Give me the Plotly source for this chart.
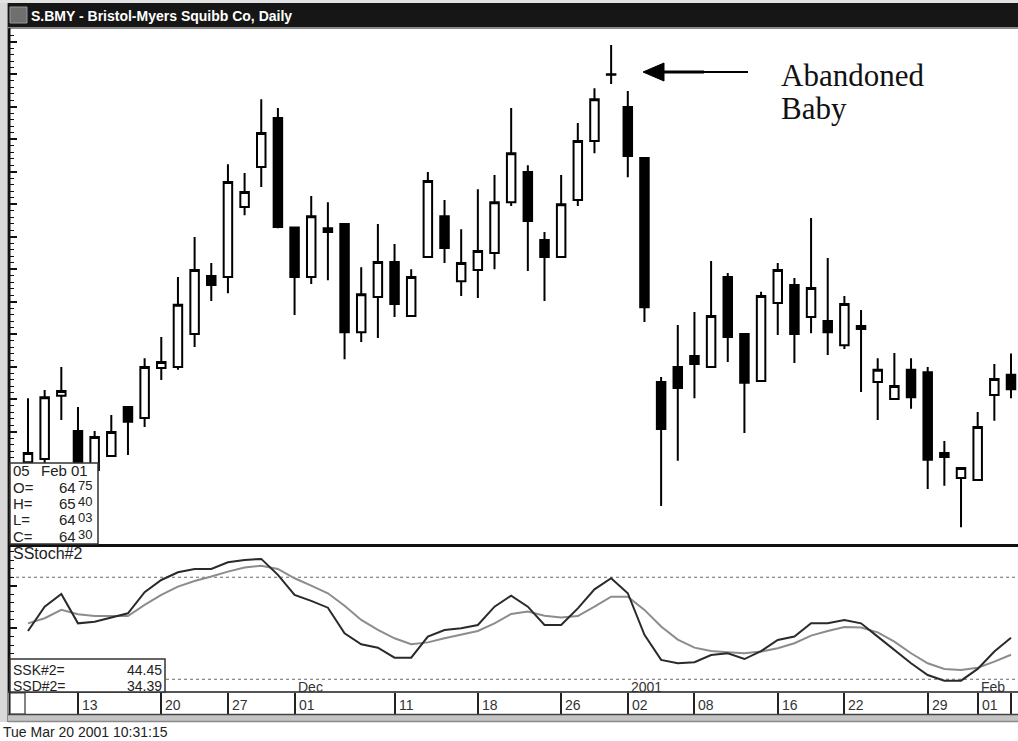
import datetime
import plotly.graph_objects as go

W, H = 1018, 741

# ---------------- data ----------------
dates = [
    "2000-11-08", "2000-11-09", "2000-11-10", "2000-11-13", "2000-11-14", "2000-11-15",
    "2000-11-16", "2000-11-17", "2000-11-20", "2000-11-21", "2000-11-22", "2000-11-24",
    "2000-11-27", "2000-11-28", "2000-11-29", "2000-11-30",
    "2000-12-01", "2000-12-04", "2000-12-05", "2000-12-06", "2000-12-07", "2000-12-08",
    "2000-12-11", "2000-12-12", "2000-12-13", "2000-12-14", "2000-12-15", "2000-12-18",
    "2000-12-19", "2000-12-20", "2000-12-21", "2000-12-22", "2000-12-26", "2000-12-27",
    "2000-12-28", "2000-12-29",
    "2001-01-02", "2001-01-03", "2001-01-04", "2001-01-05", "2001-01-08", "2001-01-09",
    "2001-01-10", "2001-01-11", "2001-01-12", "2001-01-16", "2001-01-17", "2001-01-18",
    "2001-01-19", "2001-01-22", "2001-01-23", "2001-01-24", "2001-01-25", "2001-01-26",
    "2001-01-29", "2001-01-30", "2001-01-31",
    "2001-02-01", "2001-02-02", "2001-02-05",
]

opens = [
    62.06, 62.16, 64.10, 63.02, 61.82, 62.25, 63.76, 63.42, 64.96, 64.99,
    66.00, 67.79, 67.76, 69.91, 71.14, 72.65, 69.28, 67.76, 69.26, 69.39,
    66.06, 67.14, 68.22, 66.56, 68.37, 69.63, 67.63, 67.97, 68.50, 70.06,
    70.99, 68.90, 68.37, 70.13, 71.94, 74.00, 72.99, 71.42, 64.53, 64.99,
    65.33, 64.99, 67.76, 66.00, 64.56, 66.96, 67.51, 66.53, 66.40, 65.66,
    66.25, 64.53, 64.00, 64.90, 64.83, 62.34, 61.57, 61.51, 64.13, 64.75,
]
highs = [
    64.03, 64.28, 64.99, 63.76, 63.02, 63.51, 63.79, 65.26, 65.91, 67.76,
    68.99, 68.19, 71.23, 70.96, 73.23, 72.96, 69.31, 70.25, 70.06, 69.42,
    68.06, 69.39, 68.77, 68.00, 70.99, 70.13, 69.23, 70.46, 70.90, 72.96,
    71.20, 69.14, 70.90, 72.50, 73.57, 74.90, 73.48, 71.45, 64.68, 66.28,
    66.68, 68.25, 67.88, 66.03, 67.30, 68.19, 67.73, 69.57, 68.34, 67.17,
    66.74, 65.26, 65.42, 65.26, 64.99, 62.71, 61.90, 63.60, 65.08, 65.40,
]
lows = [
    61.82, 62.03, 63.36, 61.51, 61.66, 62.22, 62.28, 63.14, 64.59, 64.90,
    65.60, 67.02, 67.26, 69.66, 70.53, 69.26, 66.59, 67.54, 67.66, 65.23,
    65.76, 65.88, 66.53, 66.53, 68.34, 68.19, 67.17, 67.11, 68.00, 69.94,
    67.94, 67.02, 68.34, 69.94, 71.57, 73.70, 70.83, 66.37, 60.71, 62.10,
    64.03, 64.96, 65.14, 62.96, 64.53, 65.97, 65.11, 66.03, 65.36, 65.54,
    64.22, 63.36, 63.97, 63.70, 61.23, 61.33, 60.06, 61.48, 63.33, 64.03,
]
closes = [
    62.34, 64.06, 64.25, 61.82, 62.83, 62.99, 63.30, 64.99, 65.14, 66.90,
    67.97, 67.51, 70.68, 70.37, 72.19, 69.30, 67.76, 69.63, 69.14, 66.06,
    67.23, 68.22, 66.93, 67.76, 70.71, 68.65, 68.19, 68.56, 70.06, 71.57,
    69.48, 68.37, 70.00, 71.94, 73.23, 73.98, 71.48, 66.83, 63.08, 64.34,
    65.08, 66.56, 65.91, 64.50, 67.17, 67.97, 66.00, 67.42, 66.06, 66.93,
    66.16, 64.90, 64.40, 64.06, 62.13, 62.22, 61.88, 63.14, 64.62, 64.30,
]

ssk = [
    48.4, 62.7, 70.2, 52.9, 53.9, 56.3, 58.8, 71.2, 78.4, 82.9,
    84.9, 84.9, 88.8, 90.2, 90.8, 81.4, 69.6, 66.1, 62.1, 47.0,
    40.6, 38.6, 32.7, 32.7, 45.1, 49.0, 50.0, 51.9, 62.7, 69.2,
    62.7, 51.9, 51.9, 61.7, 72.9, 79.4, 70.6, 46.1, 31.4, 29.4,
    30.0, 34.3, 35.3, 31.9, 36.6, 43.1, 45.1, 52.9, 52.9, 54.9,
    52.9, 45.1, 37.2, 29.4, 22.5, 19.2, 19.2, 26.1, 36.3, 44.45,
]
ssd = [
    52.9, 55.9, 60.8, 58.2, 57.2, 57.2, 57.2, 63.7, 69.6, 74.5,
    77.8, 80.4, 83.3, 85.7, 86.8, 84.9, 79.4, 75.1, 70.6, 63.2,
    54.9, 49.0, 44.1, 40.6, 41.7, 44.1, 46.1, 48.4, 52.9, 58.4,
    59.8, 57.4, 56.3, 57.2, 62.7, 68.6, 68.6, 60.8, 51.0, 43.3,
    38.6, 36.6, 35.9, 35.3, 36.3, 38.2, 41.2, 45.7, 48.4, 50.8,
    50.4, 47.6, 42.1, 35.3, 29.4, 26.1, 25.5, 26.8, 30.4, 34.39,
]

tick_dates = ["2000-11-13", "2000-11-20", "2000-11-27", "2000-12-01", "2000-12-11",
              "2000-12-18", "2000-12-26", "2001-01-02", "2001-01-08", "2001-01-16",
              "2001-01-22", "2001-01-29", "2001-02-01"]
tick_labels = ["13", "20", "27", "01", "11", "18", "26", "02", "08", "16", "22", "29", "01"]
month_dates = ["2000-12-01", "2001-01-02", "2001-02-01"]
month_labels = ["Dec", "2001", "Feb"]

title_text = "S.BMY - Bristol-Myers Squibb Co, Daily"
stamp_text = "Tue Mar 20 2001 10:31:15"
overbought, oversold = 80, 20

# ---------------- helpers ----------------
def px(x):
    return x / W

def py(y):
    return 1 - y / H

FONT = "Liberation Sans"

def ann(text, x, y, size=14, color="#222222", xanchor="left", family=FONT, **kw):
    d = dict(text=text, x=px(x), y=py(y), xref="paper", yref="paper", showarrow=False,
             xanchor=xanchor, yanchor="middle", borderpad=0,
             font=dict(family=family, size=size, color=color))
    d.update(kw)
    return d

XR = [-1.08, 59.42]

fig = go.Figure()

fig.add_trace(go.Candlestick(
    x=dates, open=opens, high=highs, low=lows, close=closes,
    increasing=dict(line=dict(color="black", width=2), fillcolor="white"),
    decreasing=dict(line=dict(color="black", width=2), fillcolor="black"),
    whiskerwidth=0, xaxis="x", yaxis="y", showlegend=False, name="S.BMY",
))
fig.add_trace(go.Scatter(x=dates, y=ssd, mode="lines", xaxis="x2", yaxis="y2",
                         line=dict(color="#8c8c8c", width=2), showlegend=False, name="SSD#2"))
fig.add_trace(go.Scatter(x=dates, y=ssk, mode="lines", xaxis="x2", yaxis="y2",
                         line=dict(color="#2a2a2a", width=2), showlegend=False, name="SSK#2"))

shapes = []
# outer frame
shapes.append(dict(type="rect", xref="paper", yref="paper", x0=0, x1=px(8), y0=py(722), y1=1,
                   fillcolor="#d9d9d9", line=dict(width=0), layer="below"))
shapes.append(dict(type="line", xref="paper", yref="paper", x0=px(7.5), x1=px(7.5), y0=py(722), y1=py(3),
                   line=dict(color="#8a8a8a", width=1)))
shapes.append(dict(type="rect", xref="paper", yref="paper", x0=0, x1=1, y0=py(3), y1=1,
                   fillcolor="#e2e2e2", line=dict(width=0)))
# title bar
shapes.append(dict(type="rect", xref="paper", yref="paper", x0=px(8), x1=1, y0=py(27.5), y1=py(3),
                   fillcolor="#161616", line=dict(width=0)))
shapes.append(dict(type="rect", xref="paper", yref="paper", x0=px(10), x1=px(27), y0=py(23), y1=py(7),
                   fillcolor="#6f6f6f", line=dict(color="#9a9a9a", width=1)))
shapes.append(dict(type="line", xref="paper", yref="paper", x0=px(8), x1=1, y0=py(28.3), y1=py(28.3),
                   line=dict(color="#8a8a8a", width=1.5)))
# overbought / oversold
for lvl in (overbought, oversold):
    shapes.append(dict(type="line", xref="x2 domain", yref="y2", x0=0, x1=1, y0=lvl, y1=lvl,
                       line=dict(color="#6a6a6a", width=1.2, dash="dot"), layer="below"))
# panel separators
shapes.append(dict(type="line", xref="paper", yref="paper", x0=px(8), x1=1, y0=py(545.5), y1=py(545.5),
                   line=dict(color="#111111", width=3)))
shapes.append(dict(type="line", xref="paper", yref="paper", x0=px(9.5), x1=px(9.5), y0=py(714), y1=py(28),
                   line=dict(color="#111111", width=2)))
# OHLC box
shapes.append(dict(type="rect", xref="paper", yref="paper", x0=px(10), x1=px(98), y0=py(544), y1=py(463),
                   fillcolor="white", line=dict(color="#333333", width=1.5)))
# stoch value box
shapes.append(dict(type="rect", xref="paper", yref="paper", x0=px(10), x1=px(165), y0=py(692), y1=py(659),
                   fillcolor="white", line=dict(color="#333333", width=1.5)))
# date strip parts
shapes.append(dict(type="rect", xref="paper", yref="paper", x0=px(10), x1=px(25), y0=py(714), y1=py(693),
                   fillcolor="white", line=dict(color="#333333", width=1.2)))
shapes.append(dict(type="rect", xref="paper", yref="paper", x0=px(8), x1=1, y0=py(722), y1=py(714),
                   fillcolor="#c4c4c4", line=dict(width=0)))
shapes.append(dict(type="line", xref="paper", yref="paper", x0=px(8), x1=1, y0=py(714.5), y1=py(714.5),
                   line=dict(color="#444444", width=1.5)))
shapes.append(dict(type="line", xref="paper", yref="paper", x0=px(8), x1=1, y0=py(721.5), y1=py(721.5),
                   line=dict(color="#8a8a8a", width=1.5)))
# arrow
shapes.append(dict(type="line", xref="paper", yref="paper", x0=px(660), x1=px(704), y0=py(72), y1=py(72),
                   line=dict(color="black", width=3)))
shapes.append(dict(type="line", xref="paper", yref="paper", x0=px(703), x1=px(748), y0=py(72), y1=py(72),
                   line=dict(color="black", width=2)))
shapes.append(dict(type="path", xref="paper", yref="paper",
                   path=f"M {px(643)},{py(72)} L {px(664)},{py(63)} L {px(664)},{py(81)} Z",
                   fillcolor="black", line=dict(color="black", width=1)))

annotations = []
annotations.append(ann("<b>" + title_text + "</b>", 30, 15.8, size=14, color="white"))
# OHLC box text
last = datetime.date.fromisoformat(dates[-1])
annotations.append(ann(last.strftime("%d"), 12, 470.5, size=15))
annotations.append(ann(last.strftime("%b"), 40, 470.5, size=15))
annotations.append(ann(last.strftime("%y"), 70, 470.5, size=15))
rows = [("O=", opens[-1]), ("H=", highs[-1]), ("L=", lows[-1]), ("C=", closes[-1])]
for k, (lab, val) in enumerate(rows):
    yy = 487.5 + 16.2 * k
    whole, frac = f"{val:.2f}".split(".")
    annotations.append(ann(lab, 12, yy, size=15))
    annotations.append(ann(whole, 77, yy, size=15, xanchor="right"))
    annotations.append(ann(frac, 77, yy - 2, size=13, xanchor="left"))
# stoch labels
annotations.append(ann("SStoch#2", 12, 553, size=16))
annotations.append(ann("SSK#2=", 12, 670, size=14))
annotations.append(ann(f"{ssk[-1]:.2f}", 163, 670, size=14, xanchor="right"))
annotations.append(ann("SSD#2=", 12, 685.5, size=14))
annotations.append(ann(f"{ssd[-1]:.2f}", 163, 685.5, size=14, xanchor="right"))
# date labels
for d, lab in zip(tick_dates, tick_labels):
    annotations.append(dict(text=lab, x=dates.index(d), y=py(704.5), xref="x2", yref="paper",
                            showarrow=False, xanchor="left", yanchor="middle", xshift=3, borderpad=0,
                            font=dict(family=FONT, size=14, color="#333333")))
for d, lab in zip(month_dates, month_labels):
    annotations.append(dict(text=lab, x=dates.index(d), y=py(686.5), xref="x2", yref="paper",
                            showarrow=False, xanchor="left", yanchor="middle", xshift=2, borderpad=0,
                            font=dict(family=FONT, size=14, color="#333333")))
# pattern label
annotations.append(ann("Abandoned", 780, 75.8, size=31, color="#111111", family="Liberation Serif"))
annotations.append(ann("Baby", 780, 108.9, size=31, color="#111111", family="Liberation Serif"))
# timestamp
annotations.append(ann(stamp_text, 2, 732, size=14))

fig.update_layout(
    width=W, height=H, margin=dict(l=0, r=0, t=0, b=0),
    paper_bgcolor="white", plot_bgcolor="white",
    showlegend=False, boxgap=0.49, boxgroupgap=0,
    xaxis=dict(domain=[px(10), 1], type="category", range=XR, anchor="y",
               showticklabels=False, ticks="", showgrid=False, zeroline=False,
               rangeslider=dict(visible=False), showline=False),
    yaxis=dict(domain=[py(545), py(29)], range=[59.51, 75.39], anchor="x",
               showticklabels=False, showgrid=False, zeroline=False,
               showline=True, linecolor="#111111", linewidth=2,
               ticks="inside", tickmode="linear", tick0=0, dtick=1, ticklen=7,
               tickwidth=1.5, tickcolor="#111111",
               minor=dict(ticks="inside", dtick=0.2, ticklen=4, tickwidth=1, tickcolor="#111111")),
    xaxis2=dict(domain=[px(10), 1], type="category", range=XR, anchor="y2",
                showticklabels=False, showgrid=False, zeroline=False,
                ticks="outside", tickvals=tick_dates + [dates[-1]], ticklen=21,
                tickwidth=1.5, tickcolor="#222222",
                showline=True, linecolor="#555555", linewidth=1.5),
    yaxis2=dict(domain=[py(691), py(547)], range=[13.1, 97.8], anchor="x2",
                showticklabels=False, showgrid=False, zeroline=False,
                showline=True, linecolor="#111111", linewidth=2,
                ticks="inside", tickvals=[25, 50, 75], ticklen=7, tickwidth=1.5,
                tickcolor="#111111",
                minor=dict(ticks="inside", dtick=5, ticklen=4, tickwidth=1, tickcolor="#111111")),
    shapes=shapes, annotations=annotations,
    hovermode=False,
)

fig.write_html("out.html", config={"displayModeBar": False},
               post_script="document.body.style.margin='0';document.body.style.overflow='hidden';")
